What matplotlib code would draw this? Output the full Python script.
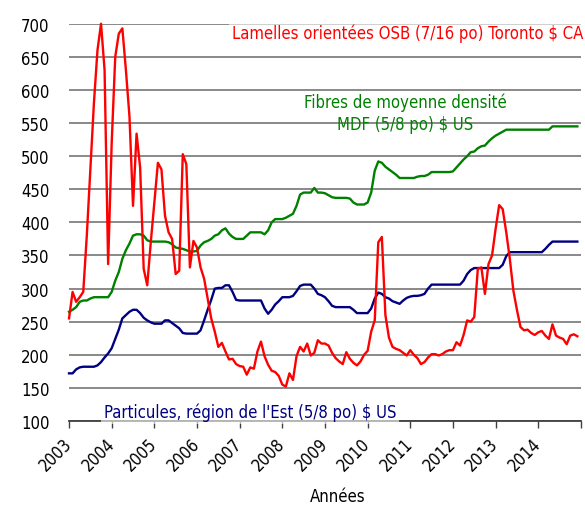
import matplotlib
matplotlib.use('Agg')
import matplotlib.pyplot as plt
import numpy as np

plt.rcParams['font.family'] = ['DejaVu Sans']
plt.rcParams['font.stretch'] = 'condensed'

# Prix mensuels, janvier 2003 à décembre 2014
osb = [255, 295, 280, 287, 295, 380, 480, 580, 660, 700, 630, 337,
       520, 650, 685, 693, 630, 560, 425, 534, 483, 330, 305, 370,
       430, 490, 480, 410, 385, 375, 322, 327, 503, 488, 332, 372,
       362, 332, 315, 285, 255, 235, 212, 218, 205, 193, 194, 186,
       183, 182, 170, 181, 179, 205, 220, 198, 185, 176, 174, 168,
       155, 152, 172, 162, 198, 212, 205, 217, 199, 203, 222, 217,
       217, 214, 203, 195, 190, 186, 204, 194, 188, 184, 190, 200,
       206, 235, 252, 370, 378, 260, 226, 212, 209, 207, 203, 199,
       207, 200, 195, 186, 189, 196, 201, 201, 199, 201, 205, 207,
       207, 219, 214, 230, 252, 250, 257, 330, 332, 292, 337, 350,
       390, 426, 420, 385, 345, 297, 268, 242, 237, 238, 233, 230,
       234, 236, 229, 224, 246, 229, 226, 224, 216, 229, 231, 228]

mdf = [265, 268, 272, 280, 282, 282, 285, 287, 287, 287, 287, 287,
       295, 312, 325, 345, 358, 368, 380, 382, 382, 380, 373, 371,
       371, 371, 371, 371, 370, 367, 362, 361, 360, 358, 356, 356,
       357, 365, 370, 372, 375, 380, 382, 388, 391, 383, 378, 375,
       375, 375, 380, 385, 385, 385, 385, 382, 388, 400, 405, 405,
       405, 407, 410, 413, 425, 442, 445, 445, 445, 452, 445, 445,
       444, 441, 438, 437, 437, 437, 437, 436, 430, 427, 427, 427,
       430, 445, 478, 492, 490, 484, 480, 476, 472, 467, 467, 467,
       467, 467, 469, 470, 470, 472, 476, 476, 476, 476, 476, 476,
       477, 483, 489, 495, 500, 506, 507, 512, 515, 516, 522, 527,
       531, 534, 537, 540, 540, 540, 540, 540, 540, 540, 540, 540,
       540, 540, 540, 540, 545, 545, 545, 545, 545, 545, 545, 545]

particules = [172, 172, 178, 181, 182, 182, 182, 182, 184, 189, 196, 202,
              210, 224, 238, 255, 260, 265, 268, 268, 263, 256, 252, 249,
              247, 247, 247, 252, 252, 248, 244, 240, 233, 232, 232, 232,
              232, 237, 252, 268, 283, 300, 301, 301, 305, 305, 295, 283,
              282, 282, 282, 282, 282, 282, 282, 270, 262, 268, 276, 281,
              287, 287, 287, 289, 296, 304, 306, 306, 306, 300, 292, 290,
              287, 281, 274, 272, 272, 272, 272, 272, 268, 263, 263, 263,
              263, 270, 285, 294, 292, 287, 285, 281, 279, 277, 282, 286,
              288, 289, 289, 290, 292, 300, 306, 306, 306, 306, 306, 306,
              306, 306, 306, 312, 322, 328, 331, 331, 331, 331, 331, 331,
              331, 331, 336, 349, 355, 355, 355, 355, 355, 355, 355, 355,
              355, 355, 360, 366, 371, 371, 371, 371, 371, 371, 371, 371]

annees = list(range(2003, 2015))
t = 2003 + np.arange(len(osb)) / 12.0

fig = plt.figure(figsize=(5.85, 5.1), dpi=100)
ax = fig.add_axes([0.118, 0.1725, 0.875, 0.779])

ax.plot(t, particules, color='#000080', lw=1.7, clip_on=False, zorder=3)
ax.plot(t, mdf, color='#008000', lw=1.7, clip_on=False, zorder=4)
ax.plot(t, osb, color='#ff0000', lw=1.7, clip_on=False, zorder=5)

ax.set_xlim(2003, 2015)
ax.set_ylim(100, 700)
ax.set_yticks(range(100, 701, 50))
ax.yaxis.grid(True, color='#808080', lw=1.3)
ax.set_axisbelow(True)
for s in ['left', 'right', 'top']:
    ax.spines[s].set_visible(False)
ax.spines['bottom'].set_color('#404040')
ax.spines['bottom'].set_linewidth(1.3)
ax.tick_params(axis='y', length=0, pad=14, labelsize=12)
ax.set_xticks(range(2003, 2016))
ax.set_xticklabels([str(a) for a in annees] + [''], rotation=45, ha='right',
                   va='center', rotation_mode='anchor', fontsize=12)
ax.tick_params(axis='x', length=5, color='#404040', width=1, pad=9)

fig.text(338 / 585, 1 - 497 / 510, 'Années', fontsize=12, ha='center', va='center')

fig.text(583 / 585, 1 - 34 / 510, 'Lamelles orientées OSB (7/16 po) Toronto $ CA',
         color='#ff0000', fontsize=12, ha='right', va='center', zorder=6,
         bbox=dict(facecolor='white', edgecolor='none', alpha=0.6, pad=2))
fig.text(405 / 585, 1 - 114 / 510, 'Fibres de moyenne densité\nMDF (5/8 po) $ US',
         color='#008000', fontsize=12, ha='center', va='center',
         multialignment='center', linespacing=1.25)
fig.text(104 / 585, 1 - 413 / 510, "Particules, région de l'Est (5/8 po) $ US",
         color='#000080', fontsize=12, ha='left', va='center', zorder=6,
         bbox=dict(facecolor='white', edgecolor='none', alpha=0.6, pad=2))

fig.savefig('out.png', dpi=100)
